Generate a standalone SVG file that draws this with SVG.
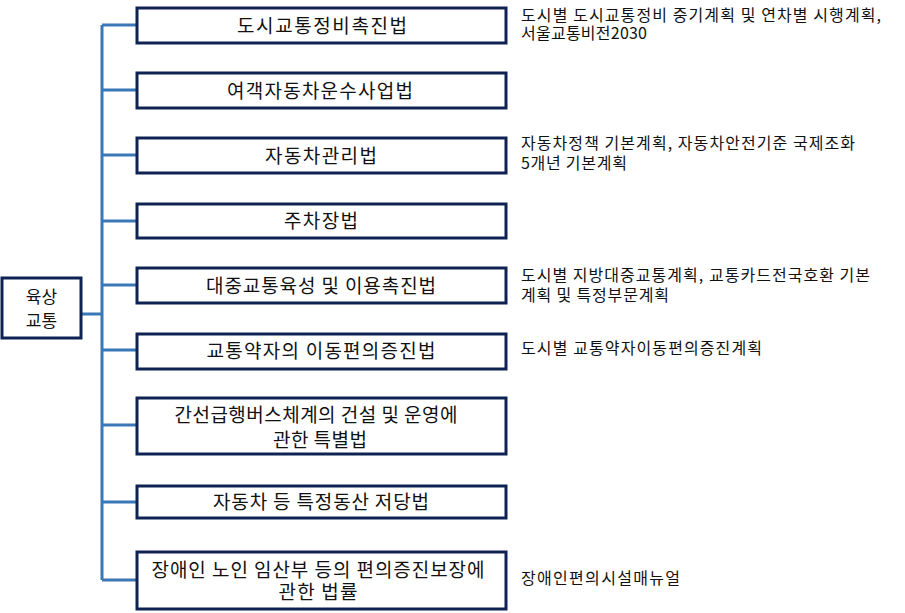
<svg xmlns="http://www.w3.org/2000/svg" width="905" height="613" viewBox="0 0 905 613">
<style>
.box{fill:#fff;stroke:#0f2352;stroke-width:3}
.lbl{font-family:"Noto Sans CJK KR","Noto Sans",sans-serif;font-size:19px;fill:#111;text-anchor:middle}
.root{font-family:"Noto Sans CJK KR","Noto Sans",sans-serif;font-size:17px;fill:#111;text-anchor:middle}
.note{font-family:"Noto Sans CJK KR","Noto Sans",sans-serif;font-size:16px;fill:#111}
.con{stroke:#3a78b8;stroke-width:3;fill:none}
</style>
<rect width="905" height="613" fill="#fff"/>
<g id="connectors">
<path class="con" d="M102 25V580M81 314H102M102 25H137M102 90H137M102 155H137M102 221H137M102 285H137M102 350H137M102 425H137M102 502H137M102 580H137"/>
</g>
<g id="root"><rect class="box" x="2" y="278" width="79" height="60"/><text class="root" x="41.5" y="303">육상</text><text class="root" x="41.5" y="327">교통</text></g>
<g id="n1"><rect class="box" x="137" y="8" width="369" height="35"/><text class="lbl" x="322" y="33" textLength="170" lengthAdjust="spacing">도시교통정비촉진법</text></g>
<g id="n2"><rect class="box" x="137" y="73" width="369" height="35"/><text class="lbl" x="320" y="98" textLength="186" lengthAdjust="spacing">여객자동차운수사업법</text></g>
<g id="n3"><rect class="box" x="137" y="138" width="369" height="35"/><text class="lbl" x="321" y="163" textLength="112" lengthAdjust="spacing">자동차관리법</text></g>
<g id="n4"><rect class="box" x="137" y="204" width="369" height="34"/><text class="lbl" x="321" y="228" textLength="74" lengthAdjust="spacing">주차장법</text></g>
<g id="n5"><rect class="box" x="137" y="268" width="369" height="35"/><text class="lbl" x="321" y="293" textLength="230" lengthAdjust="spacing">대중교통육성 및 이용촉진법</text></g>
<g id="n6"><rect class="box" x="137" y="334" width="369" height="35"/><text class="lbl" x="321" y="358" textLength="229" lengthAdjust="spacing">교통약자의 이동편의증진법</text></g>
<g id="n7"><rect class="box" x="137" y="398" width="369" height="56"/><text class="lbl" x="316" y="422" textLength="283" lengthAdjust="spacing">간선급행버스체계의 건설 및 운영에</text><text class="lbl" x="320" y="447" textLength="94" lengthAdjust="spacing">관한 특별법</text></g>
<g id="n8"><rect class="box" x="137" y="486" width="369" height="32"/><text class="lbl" x="321" y="509" textLength="216" lengthAdjust="spacing">자동차 등 특정동산 저당법</text></g>
<g id="n9"><rect class="box" x="137" y="552" width="369" height="57"/><text class="lbl" x="318" y="577" textLength="333" lengthAdjust="spacing">장애인 노인 임산부 등의 편의증진보장에</text><text class="lbl" x="318" y="599" textLength="79" lengthAdjust="spacing">관한 법률</text></g>
<g id="notes">
<text class="note" x="521" y="21" textLength="360" lengthAdjust="spacing">도시별 도시교통정비 중기계획 및 연차별 시행계획,</text>
<text class="note" x="521" y="39" textLength="126" lengthAdjust="spacing">서울교통비전2030</text>
<text class="note" x="521" y="149" textLength="334" lengthAdjust="spacing">자동차정책 기본계획, 자동차안전기준 국제조화</text>
<text class="note" x="521" y="169" textLength="106" lengthAdjust="spacing">5개년 기본계획</text>
<text class="note" x="521" y="281" textLength="349" lengthAdjust="spacing">도시별 지방대중교통계획, 교통카드전국호환 기본</text>
<text class="note" x="521" y="301" textLength="148" lengthAdjust="spacing">계획 및 특정부문계획</text>
<text class="note" x="521" y="354" textLength="241" lengthAdjust="spacing">도시별 교통약자이동편의증진계획</text>
<text class="note" x="521" y="584" textLength="159" lengthAdjust="spacing">장애인편의시설매뉴얼</text>
</g>
</svg>
